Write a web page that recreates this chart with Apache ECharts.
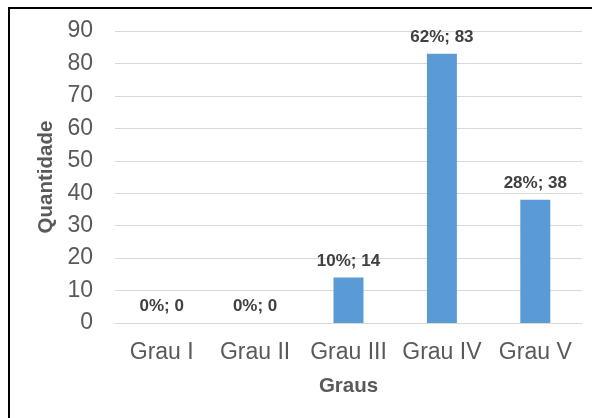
<!DOCTYPE html>
<html><head><meta charset="utf-8">
<script src="https://cdn.jsdelivr.net/npm/echarts@6/dist/echarts.min.js"></script>
<style>html,body{margin:0;padding:0;background:#fff}#c{width:592px;height:418px}</style>
</head><body><div id="c"></div>
<script>
const categories = ["Grau I", "Grau II", "Grau III", "Grau IV", "Grau V"];
const values = [0, 0, 14, 83, 38];
const percents = ["0%", "0%", "10%", "62%", "28%"];
const yTicks = [0, 10, 20, 30, 40, 50, 60, 70, 80, 90];

const chart = echarts.init(document.getElementById('c'), null, {renderer: 'canvas'});
chart.setOption({
  animation: false,
  graphic: [
    {type: 'polyline', shape: {points: [[9, 420], [9, 8], [594, 8]]}, style: {stroke: '#000', lineWidth: 2, fill: null}}
  ],
  grid: {left: 115, right: 10, top: 31, bottom: 95},
  xAxis: {
    type: 'category', data: categories,
    name: 'Graus', nameLocation: 'middle', nameGap: 53,
    nameTextStyle: {fontFamily: 'Arial, Liberation Sans', fontSize: 20.5, fontWeight: 'bold', color: '#595959'},
    axisLine: {lineStyle: {color: '#d9d9d9'}}, axisTick: {show: false},
    axisLabel: {interval: 0, hideOverlap: false, fontFamily: 'Arial, Liberation Sans', fontSize: 23, color: '#595959', margin: 18}
  },
  yAxis: {
    type: 'value', min: yTicks[0], max: yTicks[yTicks.length - 1], interval: 10,
    name: 'Quantidade', nameLocation: 'middle', nameGap: 57, nameRotate: 90,
    nameTextStyle: {fontFamily: 'Arial, Liberation Sans', fontSize: 20.5, fontWeight: 'bold', color: '#595959'},
    axisLine: {show: false}, axisTick: {show: false},
    axisLabel: {fontFamily: 'Arial, Liberation Sans', fontSize: 23, color: '#595959', margin: 22},
    splitLine: {lineStyle: {color: '#d9d9d9'}}
  },
  series: [{
    type: 'bar', data: values, barWidth: 30,
    itemStyle: {color: '#5B9BD5'},
    label: {
      show: true, position: 'top', distance: 8,
      fontFamily: 'Arial, Liberation Sans', fontSize: 17, fontWeight: 'bold', color: '#404040',
      formatter: p => percents[p.dataIndex] + '; ' + p.value
    }
  }]
});
</script></body></html>
